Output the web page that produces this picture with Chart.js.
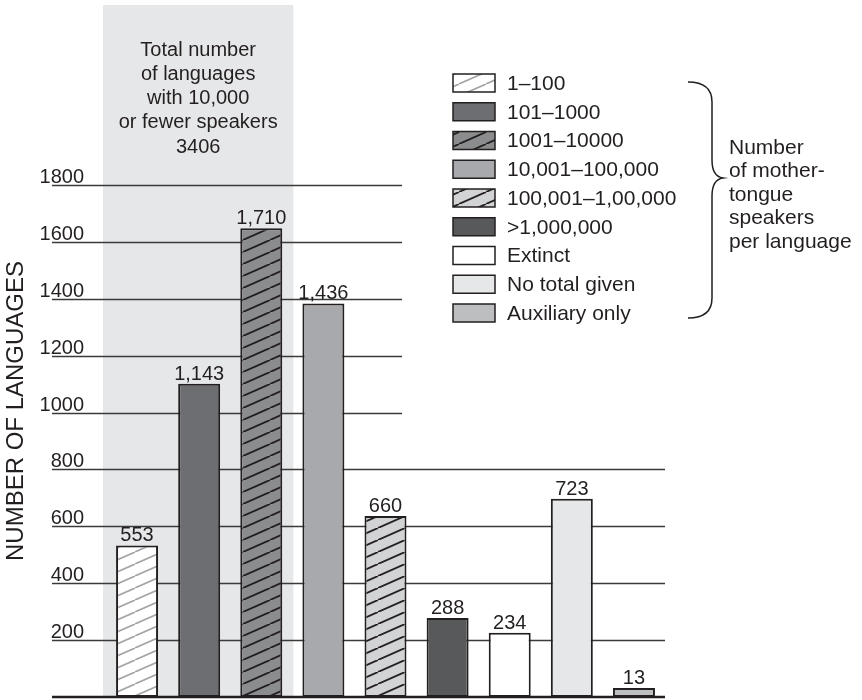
<!DOCTYPE html>
<html>
<head>
<meta charset="utf-8">
<script src="https://cdn.jsdelivr.net/npm/chart.js@4"></script>
<style>
    html, body { margin: 0; padding: 0; background: #fff; }
    #wrap { width: 862px; height: 700px; }
</style>
</head>
<body>
<div id="wrap"><canvas id="langChart" width="862" height="700"></canvas></div>
<script>
// Data
const categories = ['1–100', '101–1000', '1001–10000', '10,001–100,000', '100,001–1,00,000', '>1,000,000', 'Extinct', 'No total given', 'Auxiliary only'];
const languageCounts = [553, 1143, 1710, 1436, 660, 288, 234, 723, 13];
const yTicks = [200, 400, 600, 800, 1000, 1200, 1400, 1600, 1800];
const yTitle = 'NUMBER OF LANGUAGES';
const shadedNote = ['Total number', 'of languages', 'with 10,000', 'or fewer speakers', '3406'];
const shadedCount = 3; // first three categories are highlighted
const braceNote = ['Number', 'of mother-', 'tongue', 'speakers', 'per language'];

const INK = '#231f20';
const FONT = "'Liberation Sans', Arial, sans-serif";

// Diagonal hatch pattern tile
function makeHatch(bg, lineColor, lineWidth) {
    const W = 27, H = 12;
    const c = document.createElement('canvas');
    c.width = W; c.height = H;
    const g = c.getContext('2d');
    g.fillStyle = bg;
    g.fillRect(0, 0, W, H);
    g.strokeStyle = lineColor;
    g.lineWidth = lineWidth;
    [-W, 0, W].forEach(dx => {
        g.beginPath();
        g.moveTo(dx, H);
        g.lineTo(dx + W, 0);
        g.stroke();
    });
    return g.createPattern(c, 'repeat');
}

const barFills = [
    makeHatch('#ffffff', '#a2a4a7', 1.6),
    '#6d6e71',
    makeHatch('#8a8c8e', INK, 1.8),
    '#a7a9ac',
    makeHatch('#d1d3d4', INK, 1.8),
    '#58595b',
    '#ffffff',
    '#e6e7e8',
    '#bcbec0'
];

const decorPlugin = {
    id: 'decor',
    beforeDraw(chart) {
        const ctx = chart.ctx;
        const x = chart.scales.x, g = chart.scales.yGrid;
        const half = (x.getPixelForValue(1) - x.getPixelForValue(0)) / 2;

        ctx.save();
        ctx.fillStyle = '#fff';
        ctx.fillRect(0, 0, chart.width, chart.height);

        // shaded block behind the first categories
        const sx0 = x.getPixelForValue(0) - half - 3;
        const sx1 = x.getPixelForValue(shadedCount - 1) + half + 1;
        ctx.fillStyle = '#e6e7e8';
        ctx.fillRect(sx0, 5, sx1 - sx0, g.getPixelForValue(0) - 5);

        ctx.fillStyle = INK;
        ctx.font = '20px ' + FONT;
        ctx.textAlign = 'center';
        ctx.textBaseline = 'middle';
        shadedNote.forEach((t, i) => ctx.fillText(t, (sx0 + sx1) / 2, 50 + i * 24.3));

        // grid lines and tick labels
        ctx.strokeStyle = '#3a3a3a';
        ctx.lineWidth = 1.3;
        yTicks.forEach(v => {
            const py = Math.round(g.getPixelForValue(v)) + 0.5;
            const right = v >= 1000 ? 402 : x.right;
            ctx.beginPath();
            ctx.moveTo(52, py);
            ctx.lineTo(right, py);
            ctx.stroke();
            ctx.textAlign = 'right';
            ctx.textBaseline = 'alphabetic';
            ctx.fillText(String(v), 84, py - 2.5);
        });

        // axis title
        ctx.save();
        ctx.translate(16, 411);
        ctx.rotate(-Math.PI / 2);
        ctx.font = '24px ' + FONT;
        ctx.textAlign = 'center';
        ctx.textBaseline = 'middle';
        ctx.fillText(yTitle, 0, 0);
        ctx.restore();
        ctx.restore();
    },
    afterDraw(chart) {
        const ctx = chart.ctx;
        const x = chart.scales.x, g = chart.scales.yGrid;
        const meta = chart.getDatasetMeta(0);
        ctx.save();

        // baseline
        ctx.strokeStyle = INK;
        ctx.lineWidth = 2.6;
        ctx.beginPath();
        ctx.moveTo(52, g.getPixelForValue(0));
        ctx.lineTo(x.right, g.getPixelForValue(0));
        ctx.stroke();

        // value labels
        ctx.fillStyle = INK;
        ctx.font = '20px ' + FONT;
        ctx.textAlign = 'center';
        ctx.textBaseline = 'alphabetic';
        meta.data.forEach((bar, i) => {
            ctx.fillText(languageCounts[i].toLocaleString('en-US'), bar.x, bar.y - 4);
        });

        // legend
        ctx.font = '21px ' + FONT;
        categories.forEach((label, i) => {
            const cy = 83 + i * 28.75;
            ctx.fillStyle = barFills[i];
            ctx.fillRect(453, cy - 9, 42, 18);
            ctx.strokeStyle = INK;
            ctx.lineWidth = 1.5;
            ctx.strokeRect(453, cy - 9, 42, 18);
            ctx.fillStyle = INK;
            ctx.textAlign = 'left';
            ctx.textBaseline = 'middle';
            ctx.fillText(label, 507, cy + 1);
        });

        // brace
        ctx.strokeStyle = INK;
        ctx.lineWidth = 1.5;
        ctx.beginPath();
        ctx.moveTo(688, 82);
        ctx.bezierCurveTo(704, 82, 712, 88, 712, 102);
        ctx.lineTo(712, 160);
        ctx.bezierCurveTo(712, 172, 716, 177, 723, 178);
        ctx.bezierCurveTo(716, 179, 712, 184, 712, 196);
        ctx.lineTo(712, 298);
        ctx.bezierCurveTo(712, 312, 704, 318, 688, 318);
        ctx.stroke();

        ctx.fillStyle = INK;
        ctx.textAlign = 'left';
        ctx.textBaseline = 'middle';
        braceNote.forEach((t, i) => ctx.fillText(t, 729, 148 + i * 23.5));
        ctx.restore();
    }
};

Chart.defaults.font.family = FONT;

new Chart(document.getElementById('langChart').getContext('2d'), {
    type: 'bar',
    data: {
        labels: categories,
        datasets: [{
            data: languageCounts,
            yAxisID: 'y',
            backgroundColor: barFills,
            borderColor: INK,
            borderWidth: 2,
            borderSkipped: false,
            minBarLength: 9,
            categoryPercentage: 1,
            barPercentage: 0.676
        }]
    },
    options: {
        responsive: false,
        animation: false,
        layout: { padding: { left: 106, right: 197, top: 185, bottom: 3 } },
        plugins: {
            legend: { display: false },
            tooltip: { enabled: false }
        },
        scales: {
            x: { display: false },
            // bars in the source artwork sit slightly lower than the printed grid
            y: { display: false, min: 0, max: 1868 },
            yGrid: { type: 'linear', position: 'left', display: false, min: 0, max: 1800 }
        }
    },
    plugins: [decorPlugin]
});
</script>
</body>
</html>
